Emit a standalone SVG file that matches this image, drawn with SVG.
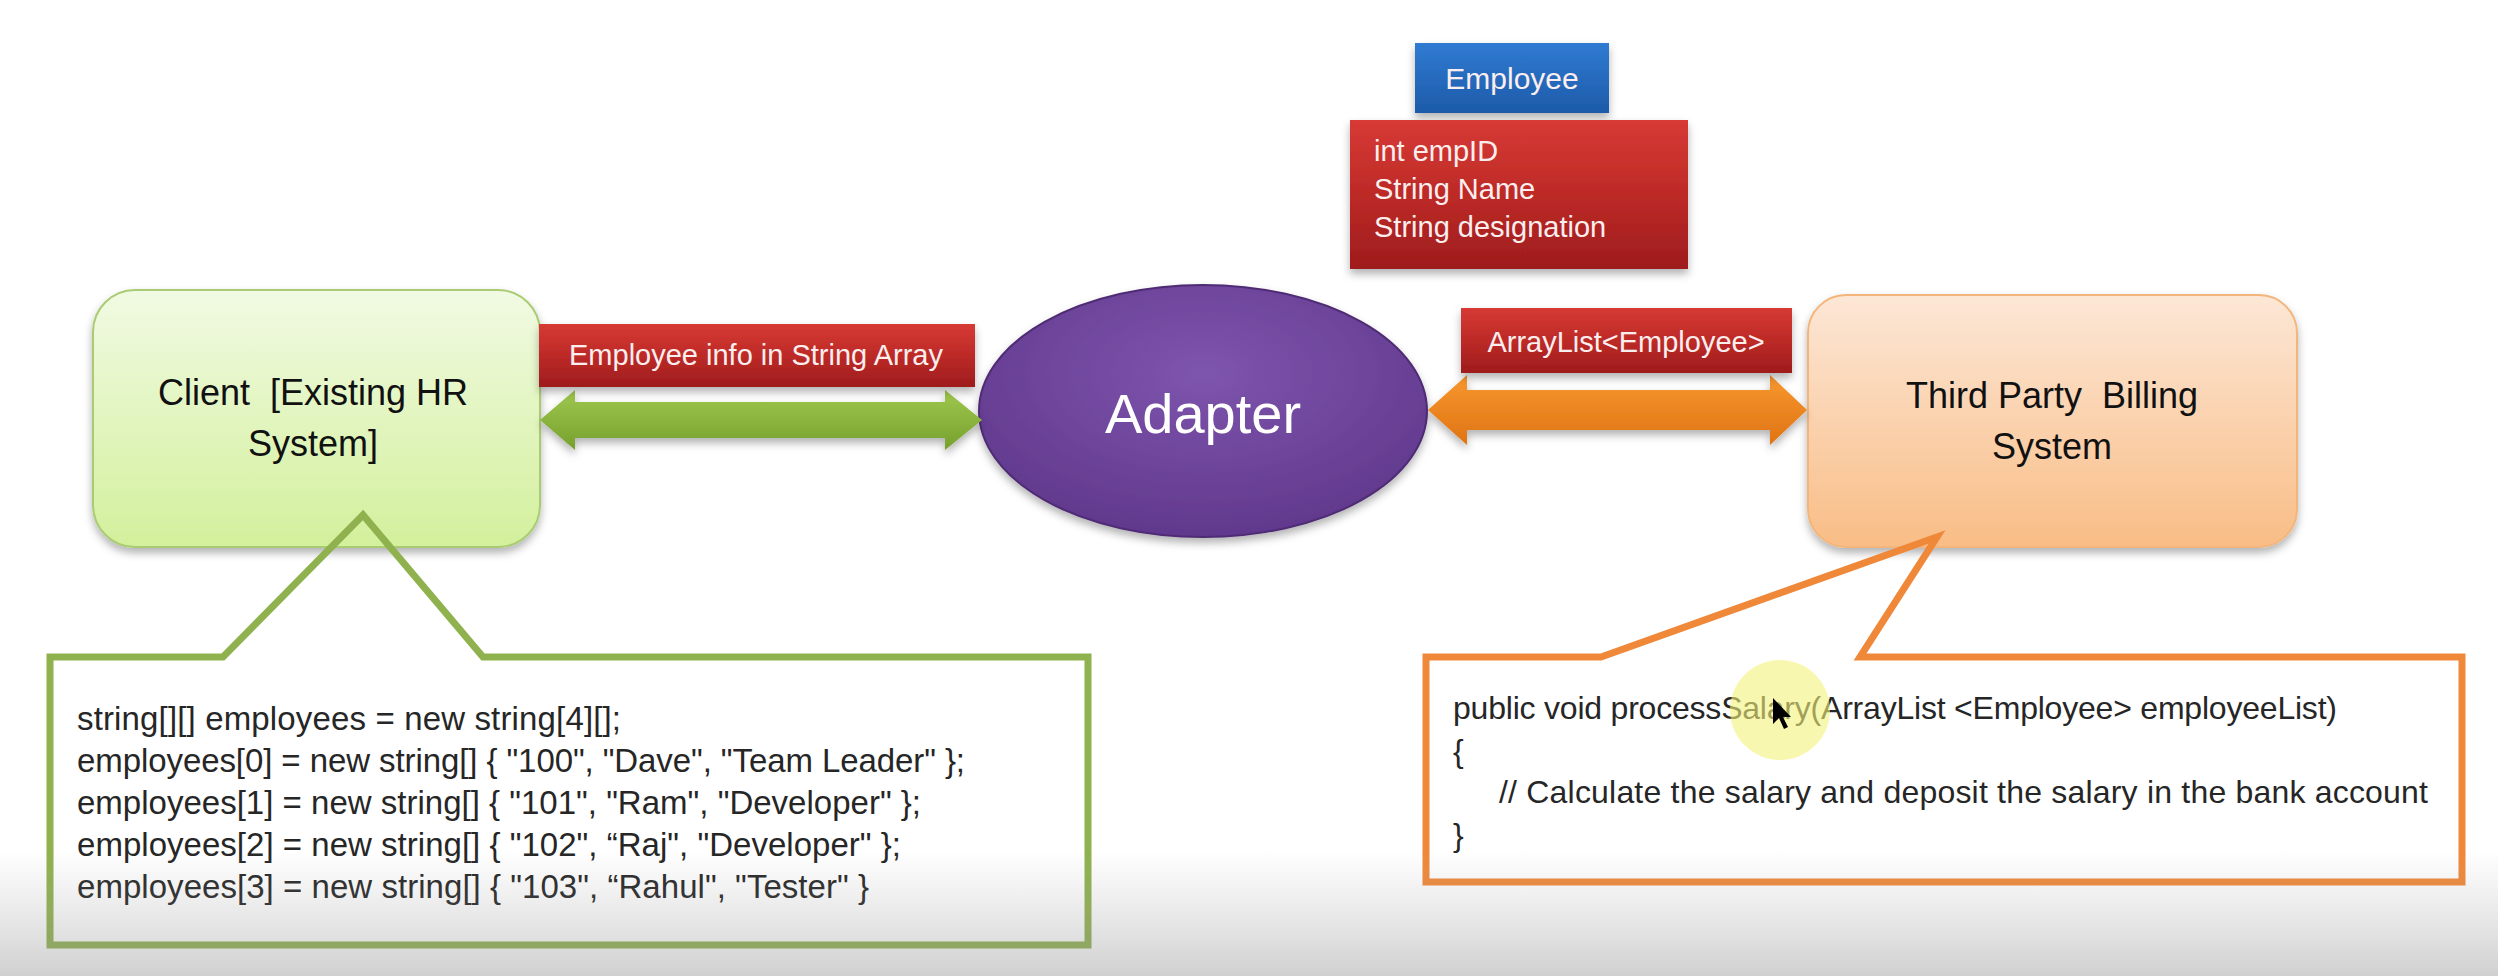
<svg xmlns="http://www.w3.org/2000/svg" width="2498" height="976" viewBox="0 0 2498 976">
<style>
.box-text{font-family:"Liberation Sans",Arial,sans-serif;font-size:36px;fill:#111;text-anchor:middle;white-space:pre}
.lbl{font-family:"Liberation Sans",Arial,sans-serif;font-size:29px;fill:#fbeeee}
.code{font-family:"Liberation Sans",Arial,sans-serif;font-size:33px;fill:#262626;white-space:pre}
.code2{font-family:"Liberation Sans",Arial,sans-serif;font-size:32px;fill:#262626;white-space:pre}
.callout-g{fill:none;stroke:#8fb24f;stroke-width:7;stroke-linejoin:miter}
.callout-o{fill:none;stroke:#f0883a;stroke-width:7;stroke-linejoin:miter}
.redbox{fill:url(#gRed);filter:url(#shadow)}
</style>
<defs>
<linearGradient id="gGreenBox" x1="0" y1="0" x2="0" y2="1">
<stop offset="0" stop-color="#f1fae3"/><stop offset="1" stop-color="#d3f09c"/>
</linearGradient>
<linearGradient id="gPeach" x1="0" y1="0" x2="0" y2="1">
<stop offset="0" stop-color="#fce7d6"/><stop offset="1" stop-color="#f9bd86"/>
</linearGradient>
<linearGradient id="gRed" x1="0" y1="0" x2="0" y2="1">
<stop offset="0" stop-color="#d73a34"/><stop offset="0.5" stop-color="#bd2a27"/><stop offset="1" stop-color="#9e1c1d"/>
</linearGradient>
<linearGradient id="gBlue" x1="0" y1="0" x2="0" y2="1">
<stop offset="0" stop-color="#307bd2"/><stop offset="1" stop-color="#1d5aa9"/>
</linearGradient>
<radialGradient id="gPurple" cx="0.5" cy="0.35" r="0.7">
<stop offset="0" stop-color="#7e55ad"/><stop offset="1" stop-color="#5e368a"/>
</radialGradient>
<linearGradient id="gGreenArrow" x1="0" y1="0" x2="0" y2="1">
<stop offset="0" stop-color="#9fc84f"/><stop offset="1" stop-color="#76a02d"/>
</linearGradient>
<linearGradient id="gOrangeArrow" x1="0" y1="0" x2="0" y2="1">
<stop offset="0" stop-color="#f7982f"/><stop offset="1" stop-color="#e07313"/>
</linearGradient>
<linearGradient id="gFade" x1="0" y1="0" x2="0" y2="1">
<stop offset="0" stop-color="#9a9a9a" stop-opacity="0"/><stop offset="1" stop-color="#8a8a8a" stop-opacity="0.4"/>
</linearGradient>
<filter id="shadow" x="-10%" y="-10%" width="120%" height="130%">
<feDropShadow dx="0" dy="5" stdDeviation="4" flood-color="#000" flood-opacity="0.3"/>
</filter>
</defs>

<rect x="0" y="0" width="2498" height="976" fill="#ffffff"/>

<g id="employee-class">
<rect x="1415" y="43" width="194" height="70" fill="url(#gBlue)" filter="url(#shadow)"/>
<text x="1512" y="89" class="lbl" style="font-size:30px" text-anchor="middle">Employee</text>
<rect x="1350" y="120" width="338" height="149" class="redbox"/>
<text x="1374" y="161" class="lbl">int empID</text>
<text x="1374" y="199" class="lbl">String Name</text>
<text x="1374" y="237" class="lbl">String designation</text>
</g>

<g id="client">
<rect x="93" y="290" width="447" height="257" rx="42" fill="url(#gGreenBox)" stroke="#a9cc72" stroke-width="2" filter="url(#shadow)"/>
<text x="313" y="405" class="box-text">Client  [Existing HR</text>
<text x="313" y="456" class="box-text">System]</text>
</g>

<g id="adapter">
<ellipse cx="1203" cy="411" rx="224" ry="126" fill="url(#gPurple)" stroke="#4f2c74" stroke-width="2" filter="url(#shadow)"/>
<text x="1203" y="433" text-anchor="middle" style="font-family:'Liberation Sans',Arial,sans-serif;font-size:56px;fill:#ffffff">Adapter</text>
</g>

<g id="third-party">
<rect x="1808" y="295" width="489" height="252" rx="38" fill="url(#gPeach)" stroke="#f4b57c" stroke-width="2" filter="url(#shadow)"/>
<text x="2052" y="408" class="box-text">Third Party  Billing</text>
<text x="2052" y="459" class="box-text">System</text>
</g>

<g id="connectors">
<polygon points="540,420 575,390 575,402 945,402 945,390 982,420 945,450 945,438 575,438 575,450" fill="url(#gGreenArrow)" filter="url(#shadow)"/>
<polygon points="1428,410 1467,375 1467,390 1770,390 1770,375 1807,410 1770,445 1770,430 1467,430 1467,445" fill="url(#gOrangeArrow)" filter="url(#shadow)"/>
</g>

<g id="label-string-array">
<rect x="539" y="324" width="436" height="63" class="redbox"/>
<text x="756" y="365" class="lbl" text-anchor="middle">Employee info in String Array</text>
</g>

<g id="label-arraylist">
<rect x="1461" y="308" width="331" height="65" class="redbox"/>
<text x="1626" y="352" class="lbl" text-anchor="middle">ArrayList&lt;Employee&gt;</text>
</g>

<g id="client-code">
<path class="callout-g" d="M50 657 L223 657 L363 515 L483 657 L1088 657 L1088 945 L50 945 Z"/>
<text x="77" y="730" class="code" textLength="544">string[][] employees = new string[4][];</text>
<text x="77" y="772" class="code" textLength="888">employees[0] = new string[] { "100", "Dave", "Team Leader" };</text>
<text x="77" y="814" class="code" textLength="844">employees[1] = new string[] { "101", "Ram", "Developer" };</text>
<text x="77" y="856" class="code" textLength="824">employees[2] = new string[] { "102", “Raj", "Developer" };</text>
<text x="77" y="898" class="code" textLength="792">employees[3] = new string[] { "103", “Rahul", "Tester" }</text>
</g>

<g id="billing-code">
<path class="callout-o" d="M1426 657 L1601 657 L1937 537 L1860 657 L2462 657 L2462 882 L1426 882 Z"/>
<text x="1453" y="719" class="code2" textLength="884">public void processSalary(ArrayList &lt;Employee&gt; employeeList)</text>
<text x="1453" y="762" class="code2">{</text>
<text x="1499" y="803" class="code2" textLength="929">// Calculate the salary and deposit the salary in the bank account</text>
<text x="1453" y="846" class="code2">}</text>
</g>

<g id="pointer-highlight">
<circle cx="1780" cy="710" r="50" fill="#f4f27a" fill-opacity="0.6"/>
<polygon points="1773,698 1773,724 1779,718 1784,729 1788,727 1783,717 1791,717" fill="#000"/>
</g>

<rect x="0" y="850" width="2498" height="126" fill="url(#gFade)"/>
</svg>
